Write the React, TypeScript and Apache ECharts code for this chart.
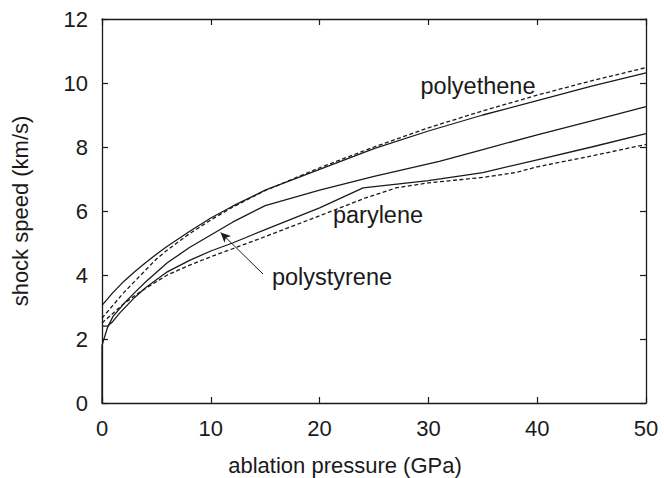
import React, { useEffect, useRef } from "react";
import * as echarts from "echarts";

// ablation pressure (GPa) / shock speed (km/s)
const polyethenePressure = [0, 1, 2, 3, 4, 5, 6, 8, 10, 12, 15, 20, 25, 30, 35, 40, 45, 50];
const polyetheneSpeed = [3.05, 3.45, 3.8, 4.1, 4.38, 4.65, 4.9, 5.35, 5.78, 6.15, 6.65, 7.3, 7.95, 8.5, 9.0, 9.45, 9.9, 10.32];

const polyetheneDashPressure = [0, 1, 2, 3, 4, 5, 6, 8, 10, 12, 15, 20, 25, 30, 35, 40, 45, 50];
const polyetheneDashSpeed = [2.65, 3.05, 3.45, 3.8, 4.15, 4.5, 4.78, 5.28, 5.72, 6.12, 6.64, 7.35, 8.0, 8.6, 9.13, 9.62, 10.07, 10.48];

const polystyrenePressure = [0, 0, 0.5, 1, 2, 3, 4, 6, 8, 10, 12, 15, 20, 25, 31, 35, 40, 45, 50];
const polystyreneSpeed = [0, 1.8, 2.35, 2.7, 3.1, 3.45, 3.78, 4.38, 4.85, 5.25, 5.65, 6.17, 6.65, 7.08, 7.55, 7.92, 8.38, 8.82, 9.26];

const paryleneSolidPressure = [0, 0.5, 1, 1.6, 3, 4, 6, 8, 10, 12, 15, 20, 24, 30, 35, 40, 45, 50];
const paryleneSolidSpeed = [2.4, 2.4, 2.55, 2.8, 3.3, 3.6, 4.1, 4.45, 4.75, 5.0, 5.42, 6.1, 6.72, 6.95, 7.2, 7.6, 8.0, 8.42];

const paryleneDashPressure = [0, 1, 2, 3, 4, 6, 8, 10, 12, 15, 20, 24, 27, 30, 35, 38, 40, 45, 50];
const paryleneDashSpeed = [2.5, 2.8, 3.1, 3.35, 3.58, 4.0, 4.3, 4.57, 4.82, 5.2, 5.85, 6.38, 6.72, 6.88, 7.05, 7.2, 7.38, 7.72, 8.08];

const xTitle = "ablation pressure (GPa)";
const yTitle = "shock speed (km/s)";

const FONT = "'Liberation Sans', Arial, Helvetica, sans-serif";
const INK = "#1a1a1a";

const zip = (xs: number[], ys: number[]) => xs.map((x, i) => [x, ys[i]]);

export default function App() {
  const ref = useRef<HTMLDivElement>(null);
  useEffect(() => {
    if (!ref.current) return;
    const chart = echarts.init(ref.current, undefined, { renderer: "svg" });
    const line = (name: string, data: number[][], dashed: boolean, extra: any = {}) => ({
      name,
      type: "line",
      data,
      showSymbol: false,
      symbol: "none",
      smooth: false,
      lineStyle: { color: INK, width: 1.3, type: dashed ? [4, 2.5] : "solid" },
      z: 3,
      ...extra,
    });
    const axisCommon = {
      type: "value",
      axisLine: { show: true, onZero: false, lineStyle: { color: INK, width: 1.3 } },
      splitLine: { show: false },
      axisTick: { show: true, inside: true, length: 6, lineStyle: { color: INK, width: 1.2 } },
    };
    const annot = (text: string, x: number, y: number, size: number) => ({
      type: "text",
      x,
      y,
      style: { text, font: `${size}px ${FONT}`, fill: INK, textAlign: "center", textVerticalAlign: "middle" },
    });
    chart.setOption({
      animation: false,
      grid: { left: 102, right: 18, top: 19, bottom: 75, containLabel: false },
      xAxis: [
        {
          ...axisCommon,
          min: 0,
          max: 50,
          interval: 10,
          position: "bottom",
          axisLabel: { color: INK, fontSize: 22, fontFamily: FONT, margin: 14 },
        },
        {
          ...axisCommon,
          min: 0,
          max: 50,
          interval: 10,
          position: "top",
          axisLabel: { show: false },
        },
      ],
      yAxis: [
        {
          ...axisCommon,
          min: 0,
          max: 12,
          interval: 2,
          position: "left",
          axisLabel: { color: INK, fontSize: 22, fontFamily: FONT, margin: 14 },
        },
        {
          ...axisCommon,
          min: 0,
          max: 12,
          interval: 2,
          position: "right",
          axisLabel: { show: false },
        },
      ],
      series: [
        line("polyethene", zip(polyethenePressure, polyetheneSpeed), false),
        line("polyethene (dashed)", zip(polyetheneDashPressure, polyetheneDashSpeed), true),
        line("polystyrene", zip(polystyrenePressure, polystyreneSpeed), false, {
          markLine: {
            silent: true,
            symbol: ["none", "arrow"],
            symbolSize: [7, 10],
            label: { show: false },
            lineStyle: { color: INK, width: 1, type: "solid" },
            data: [[{ coord: [14.8, 4.03] }, { coord: [10.9, 5.33] }]],
          },
        }),
        line("parylene", zip(paryleneSolidPressure, paryleneSolidSpeed), false),
        line("parylene (dashed)", zip(paryleneDashPressure, paryleneDashSpeed), true),
      ],
      graphic: [
        annot("polyethene", 478, 86, 23.5),
        annot("parylene", 378, 215, 23.5),
        annot("polystyrene", 332, 277, 23.5),
        annot(xTitle, 345, 465, 22),
        {
          type: "text",
          x: 20,
          y: 211,
          rotation: Math.PI / 2,
          style: { text: yTitle, font: `22px ${FONT}`, fill: INK, textAlign: "center", textVerticalAlign: "middle" },
        },
      ],
    });
    return () => chart.dispose();
  }, []);
  return <div ref={ref} style={{ width: 664, height: 478, position: "absolute", left: 0, top: 0 }} />;
}
